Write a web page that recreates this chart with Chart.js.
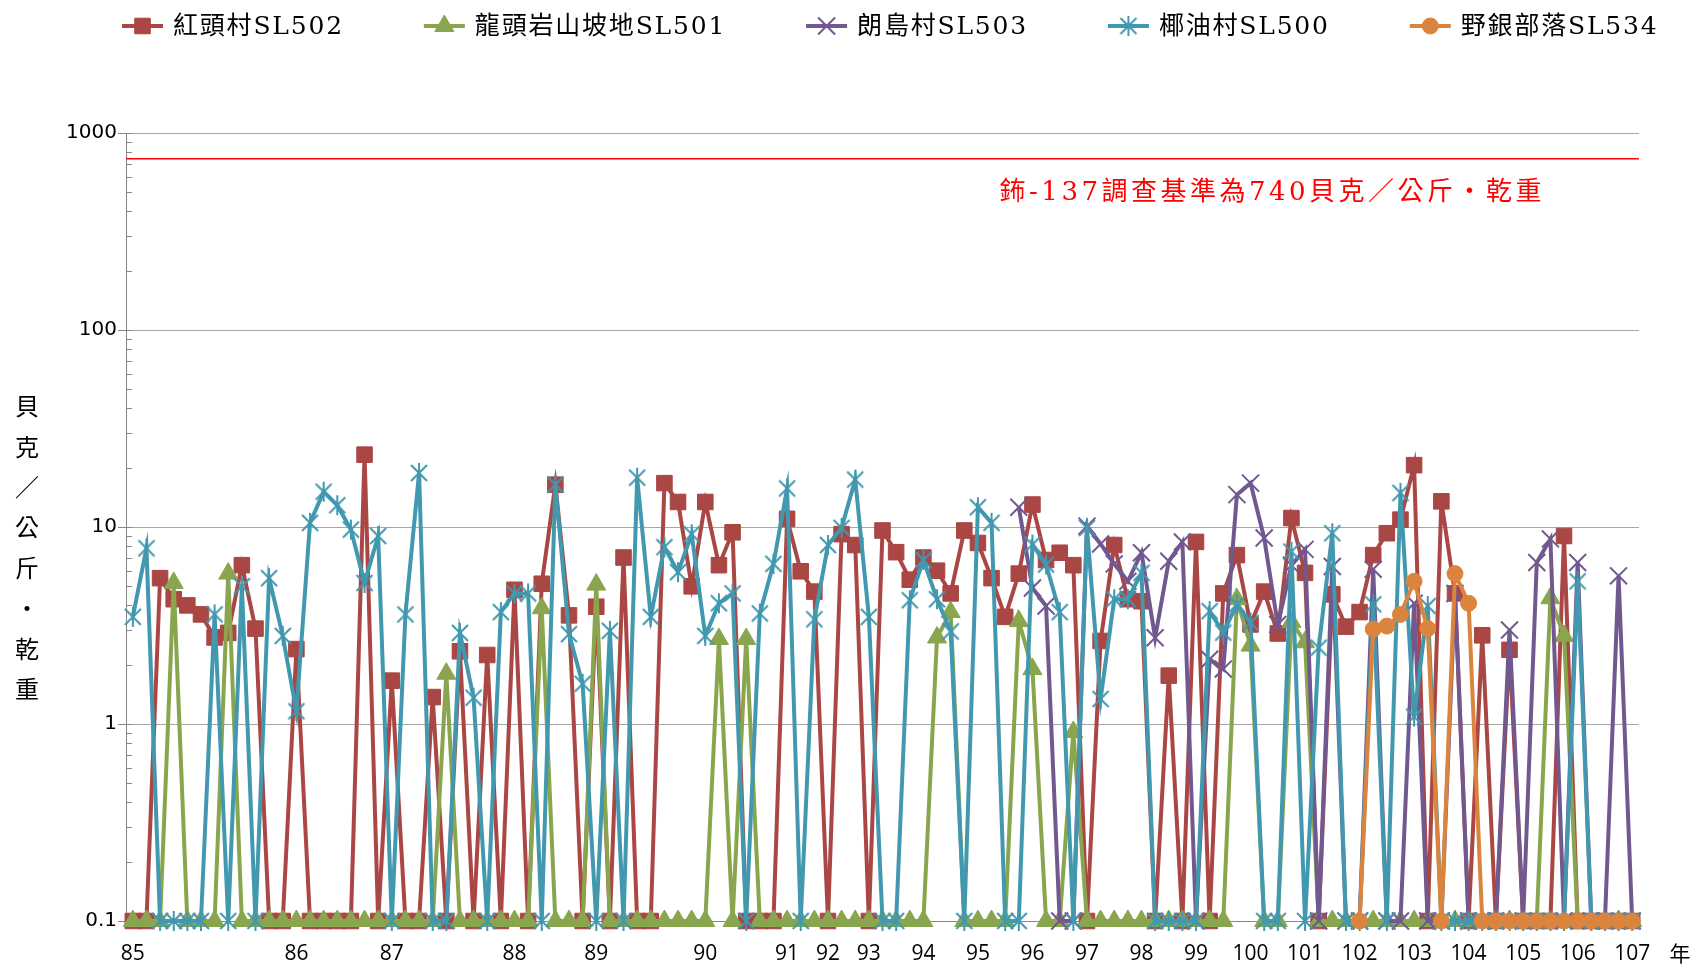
<!DOCTYPE html>
<html>
<head>
<meta charset="utf-8">
<script src="https://cdn.jsdelivr.net/npm/chart.js@4.4.1/dist/chart.umd.min.js"></script>
<style>
  html, body { margin: 0; padding: 0; background: #fff; }
  #wrap { width: 1699px; height: 969px; position: relative; }
</style>
</head>
<body>
<div id="wrap"><canvas id="cesiumChart"></canvas></div>
<script>
// x axis: 111 samples, year labels only at some of them
const sampleCount = 111;
const yearTicks = ['85','86','87','88','89','90','91','92','93','94','95','96','97','98','99','100','101','102','103','104','105','106','107'];
const yearTickIndex = [0,12,19,28,34,42,48,51,54,58,62,66,70,74,78,82,86,90,94,98,102,106,110];

// 0.1 = below detection (plotted on the floor of the log axis)
const hongtou = [
  0.1, 0.1, 5.5, 4.3, 4.0, 3.6, 2.75, 2.9, 6.4, 3.05,
  0.1, 0.1, 2.4, 0.1, 0.1, 0.1, 0.1, 23.3, 0.1, 1.66,
  0.1, 0.1, 1.37, 0.1, 2.34, 0.1, 2.24, 0.1, 4.8, 0.1,
  5.15, 16.4, 3.56, 0.1, 3.94, 0.1, 7.0, 0.1, 0.1, 16.7,
  13.4, 5.0, 13.4, 6.4, 9.4, 0.1, 0.1, 0.1, 11.0, 5.96,
  4.7, 0.1, 9.2, 8.1, 0.1, 9.6, 7.45, 5.4, 7.0, 6.0,
  4.6, 9.6, 8.3, 5.5, 3.5, 5.8, 13.0, 6.8, 7.4, 6.4,
  0.1, 2.64, 8.1, 4.3, 4.2, 0.1, 1.76, 0.1, 8.4, 0.1,
  4.6, 7.2, 3.2, 4.7, 2.88, 11.1, 5.85, 0.1, 4.55, 3.12,
  3.7, 7.2, 9.3, 10.9, 20.6, 0.1, 13.5, 4.6, 0.1, 2.82,
  0.1, 2.38, 0.1, 0.1, 0.1, 9.0, 0.1, 0.1, 0.1, 0.1, 0.1
];
const longtou = [
  0.1, 0.1, 0.1, 5.2, 0.1, 0.1, 0.1, 5.8, 0.1, 0.1,
  0.1, 0.1, 0.1, 0.1, 0.1, 0.1, 0.1, 0.1, 0.1, 0.1,
  0.1, 0.1, 0.1, 1.8, 0.1, 0.1, 0.1, 0.1, 0.1, 0.1,
  3.87, 0.1, 0.1, 0.1, 5.1, 0.1, 0.1, 0.1, 0.1, 0.1,
  0.1, 0.1, 0.1, 2.7, 0.1, 2.7, 0.1, 0.1, 0.1, 0.1,
  0.1, 0.1, 0.1, 0.1, 0.1, 0.1, 0.1, 0.1, 0.1, 2.75,
  3.7, 0.1, 0.1, 0.1, 0.1, 3.33, 1.9, 0.1, 0.1, 0.91,
  0.1, 0.1, 0.1, 0.1, 0.1, 0.1, 0.1, 0.1, 0.1, 0.1,
  0.1, 4.3, 2.5, 0.1, 0.1, 3.3, 2.6, 0.1, 0.1, 0.1,
  0.1, 0.1, 0.1, 0.1, 0.1, 0.1, 0.1, 0.1, 0.1, 0.1,
  0.1, 0.1, 0.1, 0.1, 4.35, 2.8, 0.1, 0.1, 0.1, 0.1, 0.1
];
// station SL503 starts at sample 65
const langdao = [
  ...Array(65).fill(null),
  12.6, 4.9, 3.97, 0.1, 0.1,
  10.1, 8.2, 6.5, 5.3, 7.4, 2.74, 6.7, 8.4, 0.1, 2.13,
  1.9, 14.6, 16.7, 8.8, 3.2, 6.4, 7.7, 0.1, 6.3, 0.1,
  0.1, 6.1, 0.1, 0.1, 4.1, 0.1, 0.1, 4.6, 0.1, 0.1,
  0.1, 3.0, 0.1, 6.6, 8.7, 0.1, 6.6, 0.1, 0.1, 5.65, 0.1
];
const yeyou = [
  3.5, 7.8, 0.1, 0.1, 0.1, 0.1, 3.6, 0.1, 5.0, 0.1,
  5.5, 2.8, 1.16, 10.5, 15.1, 12.9, 9.7, 5.2, 9.0, 0.1,
  3.6, 18.8, 0.1, 0.1, 2.9, 1.36, 0.1, 3.7, 4.6, 4.6,
  0.1, 16.4, 2.86, 1.6, 0.1, 2.97, 0.1, 17.8, 3.5, 7.9,
  5.9, 9.2, 2.8, 4.1, 4.6, 0.1, 3.64, 6.5, 15.7, 0.1,
  3.4, 8.1, 9.9, 17.4, 3.5, 0.1, 0.1, 4.25, 6.8, 4.3,
  2.95, 0.1, 12.6, 10.5, 0.1, 0.1, 8.15, 6.45, 3.7, 0.1,
  9.9, 1.34, 4.3, 4.3, 5.85, 0.1, 0.1, 0.1, 0.1, 3.74,
  2.91, 4.05, 3.27, 0.1, 0.1, 7.5, 0.1, 2.44, 9.3, 0.1,
  0.1, 4.05, 0.1, 14.9, 1.09, 3.97, 0.1, 0.1, 0.1, 0.1,
  0.1, 0.1, 0.1, 0.1, 0.1, 0.1, 5.3, 0.1, 0.1, 0.1, 0.1
];
// station SL534 starts at sample 90
const yeyin = [
  ...Array(90).fill(null),
  0.1, 3.03, 3.14, 3.6, 5.3, 3.05, 0.1, 5.8, 4.1, 0.1,
  0.1, 0.1, 0.1, 0.1, 0.1, 0.1, 0.1, 0.1, 0.1, 0.1, 0.1
];

const limitValue = 740;
const limitText = '鈽-137調查基準為740貝克／公斤・乾重';
const yDecades = [0.1, 1, 10, 100, 1000];
const yTitle = ['貝', '克', '／', '公', '斤', '・', '乾', '重'];

const labels = Array(sampleCount).fill('');
yearTickIndex.forEach((idx, i) => { labels[idx] = yearTicks[i]; });

// log ticks 1..9 per decade
const yTickValues = [];
yDecades.slice(0, -1).forEach(d => {
  for (let k = 1; k <= 9; k++) yTickValues.push(+(k * d).toPrecision(3));
});
yTickValues.push(yDecades[yDecades.length - 1]);

const isDecade = v => Math.abs(Math.log10(v) - Math.round(Math.log10(v))) < 1e-6;

// asterisk marker like the spreadsheet one (X plus vertical bar)
function asteriskMark(color) {
  const c = document.createElement('canvas');
  c.width = 22; c.height = 22;
  const g = c.getContext('2d');
  g.strokeStyle = color;
  g.lineWidth = 2;
  g.beginPath();
  g.moveTo(3, 3); g.lineTo(19, 19);
  g.moveTo(19, 3); g.lineTo(3, 19);
  g.moveTo(11, 1); g.lineTo(11, 21);
  g.stroke();
  return c;
}

function makeSeries(label, data, color, style, radius, order, markBorder) {
  return {
    label: label,
    data: data,
    borderColor: color,
    backgroundColor: color,
    pointBackgroundColor: color,
    pointBorderColor: color,
    pointBorderWidth: markBorder,
    borderWidth: 4,
    pointStyle: style,
    pointRadius: radius,
    tension: 0,
    spanGaps: false,
    clip: false,
    order: order
  };
}

const datasets = [
  makeSeries('紅頭村SL502', hongtou, '#AA4643', 'rect', 11, 5, 1),
  makeSeries('龍頭岩山坡地SL501', longtou, '#89A54E', 'triangle', 11, 4, 1),
  makeSeries('朗島村SL503', langdao, '#71588F', 'crossRot', 12, 3, 2),
  makeSeries('椰油村SL500', yeyou, '#4198AF', asteriskMark('#4198AF'), 11, 2, 1),
  makeSeries('野銀部落SL534', yeyin, '#DB843D', 'circle', 8, 1, 1)
];

const CJK = '"Noto Sans CJK TC"';

const extrasPlugin = {
  id: 'extras',
  beforeDatasetsDraw(chart) {
    const {ctx, chartArea, scales} = chart;
    const y = scales.y.getPixelForValue(limitValue);
    ctx.save();
    // minor tick marks point inward, as in the original
    ctx.strokeStyle = '#868686';
    ctx.lineWidth = 1;
    scales.y.ticks.forEach(t => {
      const ty = Math.round(scales.y.getPixelForValue(t.value)) + 0.5;
      ctx.beginPath();
      ctx.moveTo(chartArea.left, ty);
      ctx.lineTo(chartArea.left + 6, ty);
      ctx.stroke();
    });
    ctx.strokeStyle = '#FF0000';
    ctx.lineWidth = 1.5;
    ctx.beginPath();
    ctx.moveTo(chartArea.left, y);
    ctx.lineTo(chartArea.right, y);
    ctx.stroke();
    ctx.fillStyle = '#FF0000';
    ctx.font = '26px "DejaVu Serif", ' + CJK;
    ctx.letterSpacing = '3.5px';
    ctx.textAlign = 'center';
    ctx.textBaseline = 'middle';
    ctx.fillText(limitText, scales.x.getPixelForValue(83.6), scales.y.getPixelForValue(495));
    ctx.restore();
  },
  afterDraw(chart) {
    const {ctx, chartArea} = chart;
    ctx.save();
    // vertical axis title, upright characters
    ctx.fillStyle = '#000';
    ctx.font = '24px ' + CJK;
    ctx.textAlign = 'center';
    ctx.textBaseline = 'middle';
    yTitle.forEach((ch, i) => ctx.fillText(ch, 27, 406 + i * 40.4));
    // year unit after the last label
    ctx.font = '21px ' + CJK;
    ctx.fillText('年', chartArea.right + 41, 953);

    // legend: line + marker + text
    ctx.font = '25px "DejaVu Serif", ' + CJK;
    ctx.letterSpacing = '1.8px';
    ctx.textAlign = 'left';
    let x = 122;
    const ly = 26;
    chart.data.datasets.forEach(ds => {
      ctx.strokeStyle = ds.borderColor;
      ctx.lineWidth = ds.borderWidth;
      ctx.beginPath();
      ctx.moveTo(x, ly);
      ctx.lineTo(x + 41, ly);
      ctx.stroke();
      ctx.fillStyle = ds.pointBackgroundColor;
      ctx.strokeStyle = ds.pointBorderColor;
      ctx.lineWidth = ds.pointBorderWidth;
      Chart.helpers.drawPoint(ctx, {
        pointStyle: ds.pointStyle, radius: ds.pointRadius, rotation: 0, borderWidth: ds.pointBorderWidth
      }, x + 20.5, ly);
      ctx.fillStyle = '#000';
      ctx.fillText(ds.label, x + 51, ly + 1);
      x += 51 + ctx.measureText(ds.label).width + 80;
    });
    ctx.restore();
  }
};

new Chart(document.getElementById('cesiumChart'), {
  type: 'line',
  data: { labels: labels, datasets: datasets },
  plugins: [extrasPlugin],
  options: {
    responsive: true,
    maintainAspectRatio: false,
    animation: false,
    events: [],
    layout: { padding: { top: 133, right: 60, left: 0, bottom: 0 } },
    plugins: {
      legend: { display: false },
      tooltip: { enabled: false }
    },
    scales: {
      x: {
        type: 'category',
        offset: true,
        grid: { display: false, drawTicks: false },
        border: { color: '#868686', width: 1 },
        ticks: {
          autoSkip: false,
          maxRotation: 0,
          minRotation: 0,
          padding: 20,
          color: '#000',
          font: { family: 'Open Sans', size: 21 }
        },
        afterFit: s => { s.height = 48; }
      },
      y: {
        type: 'logarithmic',
        min: 0.1,
        max: 1000,
        afterBuildTicks: s => { s.ticks = yTickValues.map(v => ({ value: v })); },
        afterFit: s => { s.width = 126; },
        border: { color: '#868686', width: 1 },
        grid: {
          color: c => (c.tick && isDecade(c.tick.value)) ? '#a6a6a6' : 'rgba(0,0,0,0)',
          tickColor: c => (c.tick && isDecade(c.tick.value)) ? '#868686' : 'rgba(0,0,0,0)',
          tickLength: 8,
          lineWidth: 1
        },
        ticks: {
          autoSkip: false,
          padding: 1,
          color: '#000',
          font: { family: 'DejaVu Sans', size: 20 },
          callback: v => isDecade(v) ? String(v) : ''
        }
      }
    }
  }
});
</script>
</body>
</html>
